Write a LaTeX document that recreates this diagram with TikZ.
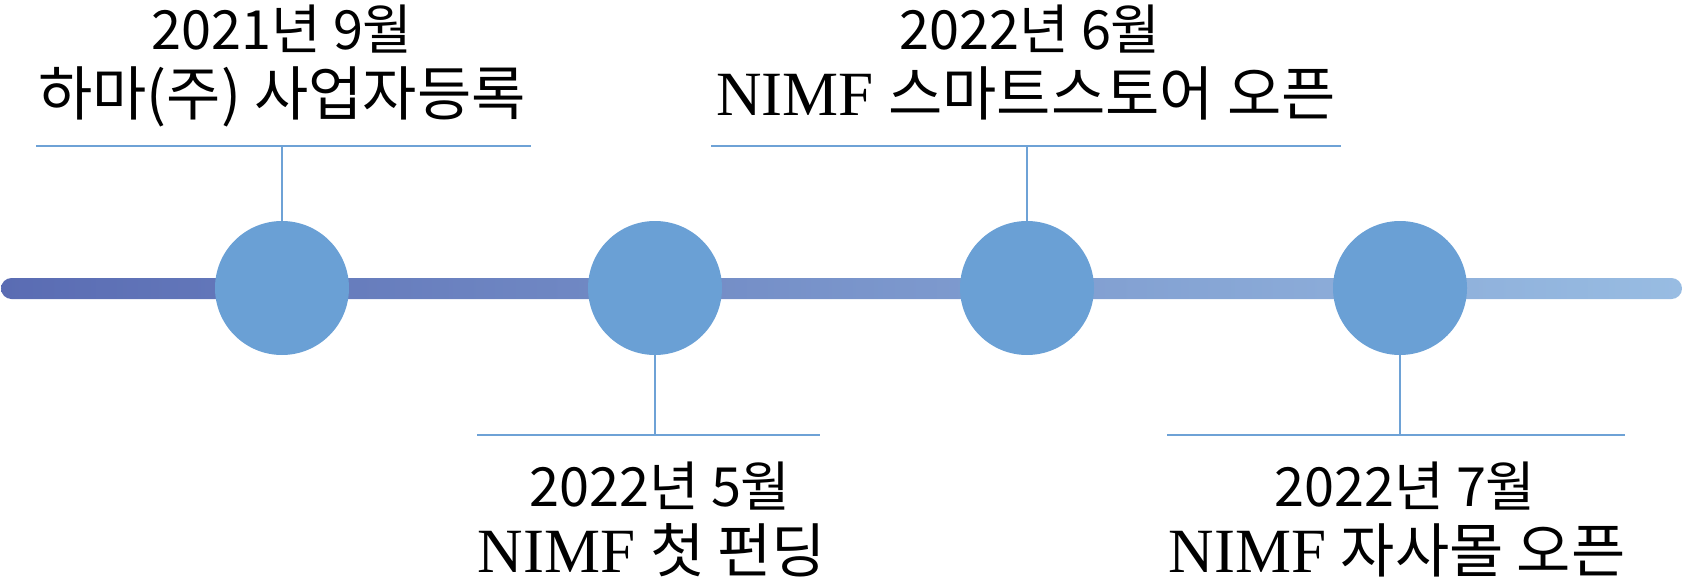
\documentclass[tikz,border=0pt]{standalone}
\usepackage{fontspec}
\setmainfont{Liberation Serif}
\newfontfamily\kr{Noto Sans CJK KR}
\definecolor{barL}{RGB}{90,108,179}
\definecolor{barR}{RGB}{152,188,226}
\definecolor{dotc}{RGB}{106,160,213}
\definecolor{connc}{RGB}{110,162,214}
\newcommand{\nimf}{{\fontsize{63}{70}\selectfont NIMF}}
\begin{document}
\begin{tikzpicture}[x=1pt,y=-1pt,
  dotnode/.style={circle,fill=dotc,minimum size=134pt,inner sep=0pt,draw=none},
  connline/.style={draw=connc,line width=2.8pt},
  datetext/.style={anchor=base,inner sep=0pt,font=\kr\fontsize{54}{60}\selectfont},
  evtext/.style={anchor=base,inner sep=0pt,font=\fontsize{59}{68}\selectfont}]
\useasboundingbox (0,0) rectangle (1683,586);
% timeline bar
\shade[left color=barL,right color=barR,rounded corners=10.5pt] (1,278) rectangle (1682,299);
% coordinates of label lines
\coordinate (h1a) at (36,146);  \coordinate (h1b) at (531,146);  \coordinate (t1) at (282,146);
\coordinate (h2a) at (477,435); \coordinate (h2b) at (820,435);  \coordinate (t2) at (655,435);
\coordinate (h3a) at (711,146); \coordinate (h3b) at (1341,146); \coordinate (t3) at (1027,146);
\coordinate (h4a) at (1167,435);\coordinate (h4b) at (1625,435); \coordinate (t4) at (1400,435);
% circles
\node[dotnode] (c1) at (282,288) {};
\node[dotnode] (c2) at (655,288) {};
\node[dotnode] (c3) at (1027,288) {};
\node[dotnode] (c4) at (1400,288) {};
% connectors
\draw[connline] (h1a) -- (h1b);
\draw[connline] (t1) -- (c1.north);
\draw[connline] (h2a) -- (h2b);
\draw[connline] (c2.south) -- (t2);
\draw[connline] (h3a) -- (h3b);
\draw[connline] (t3) -- (c3.north);
\draw[connline] (h4a) -- (h4b);
\draw[connline] (c4.south) -- (t4);
% texts
\node[datetext] (d1) at (282,49) {2021년 9월};
\node[evtext] (e1) at (282,115) {\kr 하마(주) 사업자등록};
\node[datetext] (d2) at (660,506) {2022년 5월};
\node[evtext] (e2) at (652,572) {\nimf\ {\kr 첫 펀딩}};
\node[datetext] (d3) at (1030,49) {2022년 6월};
\node[evtext] (e3) at (1026,115) {\nimf\ {\kr 스마트스토어 오픈}};
\node[datetext] (d4) at (1405,506) {2022년 7월};
\node[evtext] (e4) at (1397,572) {\nimf\ {\kr 자사몰 오픈}};
\end{tikzpicture}
\end{document}
